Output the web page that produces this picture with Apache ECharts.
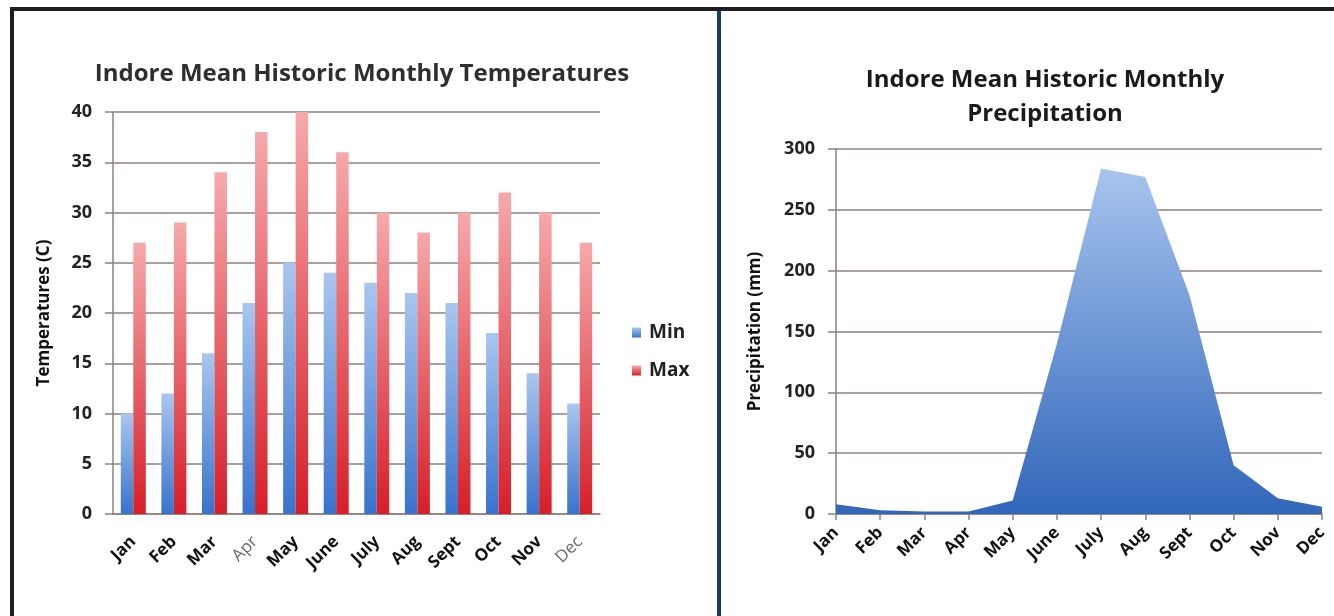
<!DOCTYPE html>
<html>
<head>
<meta charset="utf-8">
<script src="https://cdn.jsdelivr.net/npm/echarts@6/dist/echarts.min.js"></script>
<style>
  html, body { margin: 0; padding: 0; background: #ffffff; }
  #wrap { position: relative; width: 1334px; height: 616px; overflow: hidden; background: #ffffff; }
  #chart { position: absolute; left: 0; top: 0; width: 1334px; height: 616px; }
  .bar { position: absolute; pointer-events: none; }
  #frameTop { left: 10px; top: 7px; width: 1324px; height: 4px; background: #1f1d1e; }
  #frameLeft { left: 10px; top: 7px; width: 4px; height: 609px; background: #1f1d1e; }
  #divider { left: 717px; top: 11px; width: 4px; height: 605px; background: #173e63; }
</style>
</head>
<body>
<div id="wrap">
  <div id="chart"></div>
  <div class="bar" id="frameTop"></div>
  <div class="bar" id="frameLeft"></div>
  <div class="bar" id="divider"></div>
</div>
<script>
// Monthly climate normals for Indore
const months = ['Jan', 'Feb', 'Mar', 'Apr', 'May', 'June', 'July', 'Aug', 'Sept', 'Oct', 'Nov', 'Dec'];
const tempMin = [10, 12, 16, 21, 25, 24, 23, 22, 21, 18, 14, 11];
const tempMax = [27, 29, 34, 38, 40, 36, 30, 28, 30, 32, 30, 27];
const precipitation = [8, 3, 2, 2, 11, 140, 284, 277, 180, 40, 13, 6];
const temperatureTicks = [0, 5, 10, 15, 20, 25, 30, 35, 40];
const precipitationTicks = [0, 50, 100, 150, 200, 250, 300];

const FONT = '"Open Sans", Lato, sans-serif';
const gridColor = '#8c827d';

function vGrad(top, bottom) {
  return new echarts.graphic.LinearGradient(0, 0, 0, 1, [
    { offset: 0, color: top },
    { offset: 1, color: bottom }
  ]);
}

const monthLabelLeft = {
  rotate: 45,
  margin: 25,
  color: '#111',
  fontFamily: FONT,
  fontWeight: 'bold',
  fontSize: 17,
  formatter: function (v) {
    return (v === 'Apr' || v === 'Dec') ? '{soft|' + v + '}' : v;
  },
  rich: {
    soft: { color: '#6a6a6a', fontWeight: 'normal', fontFamily: FONT, fontSize: 17 }
  }
};

const chart = echarts.init(document.getElementById('chart'), null, { renderer: 'canvas' });

chart.setOption({
  animation: false,
  backgroundColor: 'transparent',
  title: [
    {
      text: 'Indore Mean Historic Monthly Temperatures',
      left: 357, top: 57, textAlign: 'center',
      textStyle: { fontFamily: FONT, fontWeight: 'bold', fontSize: 24, color: '#2e2e2e' }
    },
    {
      text: 'Indore Mean Historic Monthly\nPrecipitation',
      left: 1040, top: 58, textAlign: 'center',
      textStyle: { fontFamily: FONT, fontWeight: 'bold', fontSize: 24, lineHeight: 34, color: '#1a1a1a' }
    }
  ],
  legend: {
    orient: 'vertical',
    left: 627, top: 318,
    icon: 'rect',
    itemWidth: 9, itemHeight: 10, itemGap: 19,
    data: ['Min', 'Max'],
    textStyle: { fontFamily: FONT, fontWeight: 'bold', fontSize: 19, color: '#222', padding: [0, 0, 0, 3] }
  },
  grid: [
    { left: 113, top: 112, width: 487, height: 402 },
    { left: 836, top: 149, width: 486, height: 365 }
  ],
  xAxis: [
    {
      type: 'category', gridIndex: 0, data: months,
      axisLine: { lineStyle: { color: gridColor, width: 1.5 } },
      axisTick: { alignWithLabel: false, length: 6, lineStyle: { color: gridColor, width: 1.5 } },
      axisLabel: monthLabelLeft
    },
    {
      type: 'category', gridIndex: 1, data: months, boundaryGap: false,
      axisLine: { lineStyle: { color: gridColor, width: 1.5 } },
      axisTick: { length: 6, lineStyle: { color: gridColor, width: 1.5 } },
      axisLabel: { rotate: 45, margin: 16, color: '#111', fontFamily: FONT, fontWeight: 'bold', fontSize: 17 }
    }
  ],
  yAxis: [
    {
      type: 'value', gridIndex: 0, min: 0, max: 40, interval: 5,
      name: 'Temperatures (C)', nameLocation: 'middle', nameGap: 60, nameRotate: 90,
      nameTextStyle: { fontFamily: FONT, fontWeight: 'bold', fontSize: 17, color: '#111' },
      axisLine: { show: true, lineStyle: { color: gridColor, width: 1.5 } },
      axisTick: { show: true, length: 8, lineStyle: { color: gridColor, width: 1.5 } },
      axisLabel: {
        margin: 21, color: '#222', fontFamily: FONT, fontWeight: 'bold', fontSize: 18,
        formatter: v => temperatureTicks.includes(v) ? String(v) : ''
      },
      splitLine: { lineStyle: { color: gridColor, width: 1.5 } }
    },
    {
      type: 'value', gridIndex: 1, min: 0, max: 300, interval: 50,
      name: 'Precipitation (mm)', nameLocation: 'middle', nameGap: 72, nameRotate: 90,
      nameTextStyle: { fontFamily: FONT, fontWeight: 'bold', fontSize: 17, color: '#111' },
      axisLine: { show: true, lineStyle: { color: gridColor, width: 1.5 } },
      axisTick: { show: true, length: 8, lineStyle: { color: gridColor, width: 1.5 } },
      axisLabel: {
        margin: 21, color: '#222', fontFamily: FONT, fontWeight: 'bold', fontSize: 18,
        formatter: v => precipitationTicks.includes(v) ? String(v) : ''
      },
      splitLine: { lineStyle: { color: gridColor, width: 1.5 } }
    }
  ],
  series: [
    {
      name: 'Min', type: 'bar', xAxisIndex: 0, yAxisIndex: 0,
      data: tempMin, barWidth: 12.5, barGap: '0%',
      itemStyle: { color: vGrad('#a9c6ef', '#3873cc') }
    },
    {
      name: 'Max', type: 'bar', xAxisIndex: 0, yAxisIndex: 0,
      data: tempMax, barWidth: 12.5, barGap: '0%',
      itemStyle: { color: vGrad('#f6a9ac', '#d61f29') }
    },
    {
      name: 'Precipitation', type: 'line', xAxisIndex: 1, yAxisIndex: 1,
      data: precipitation, symbol: 'none', smooth: false,
      lineStyle: { width: 0 },
      areaStyle: { color: vGrad('#a7c4ee', '#3166ba'), opacity: 1 }
    }
  ]
});
</script>
</body>
</html>
